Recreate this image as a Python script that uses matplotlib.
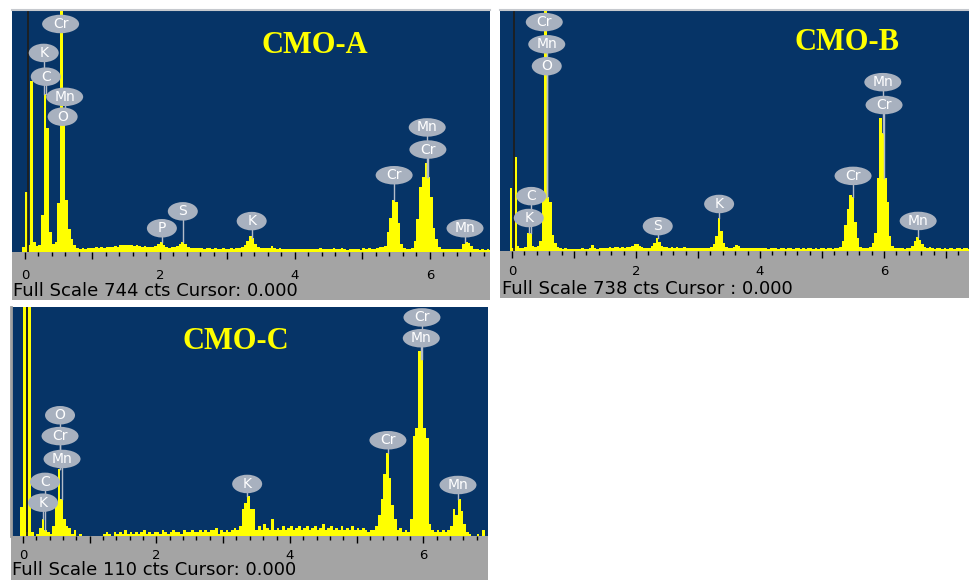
import numpy as np
import matplotlib
matplotlib.use("Agg")
import matplotlib.pyplot as plt
from matplotlib.patches import Rectangle, Ellipse
from matplotlib import transforms
from matplotlib.ticker import MultipleLocator, FuncFormatter

# EDS spectra of the three samples, counts per 0.04 keV channel
# first channel starts at -0.04 keV, rows below are 1 keV each
E0 = -0.04
DE = 0.04

counts_a = [
    15,
    184, 20, 526, 30, 18, 20, 113, 487, 380, 60, 25, 30, 150, 1000, 420, 160, 70, 40, 20, 12, 10, 12, 10, 11, 12,
    12, 14, 12, 15, 13, 14, 16, 15, 17, 16, 20, 22, 21, 22, 20, 18, 20, 17, 16, 18, 15, 16, 14, 18, 25,
    32, 22, 15, 13, 14, 15, 18, 26, 32, 25, 15, 13, 12, 13, 11, 12, 10, 12, 11, 10, 11, 9, 10, 12, 10,
    10, 11, 10, 11, 12, 14, 20, 35, 50, 42, 25, 15, 12, 11, 13, 13, 17, 11, 10, 11, 9, 10, 9, 10, 8,
    9, 8, 10, 9, 8, 9, 10, 8, 9, 12, 8, 9, 8, 10, 12, 9, 8, 11, 8, 7, 9, 8, 8, 10, 7,
    12, 8, 12, 9, 10, 11, 14, 14, 18, 60, 105, 160, 155, 90, 25, 12, 10, 9, 12, 35, 100, 200, 230, 275, 230,
    170, 75, 40, 15, 10, 9, 8, 10, 9, 8, 10, 10, 25, 30, 27, 18, 10, 8, 7, 8, 7, 8, 7,
]

counts_b = [
    193,
    10, 288, 15, 10, 8, 12, 55, 55, 15, 12, 15, 30, 162, 1000, 165, 150, 50, 25, 12, 8, 6, 8, 6, 7, 6,
    6, 7, 6, 8, 6, 7, 9, 18, 8, 7, 9, 8, 10, 9, 12, 10, 12, 11, 10, 12, 10, 11, 12, 15, 20,
    20, 16, 12, 10, 9, 10, 14, 25, 40, 28, 15, 12, 11, 10, 12, 10, 11, 9, 10, 12, 9, 10, 8, 9, 8,
    8, 9, 8, 10, 9, 12, 20, 46, 100, 60, 25, 12, 10, 9, 11, 18, 16, 10, 9, 8, 10, 9, 8, 9, 8,
    8, 10, 8, 7, 9, 8, 10, 7, 8, 9, 7, 8, 9, 7, 8, 10, 7, 8, 7, 9, 8, 7, 8, 7, 8,
    8, 7, 9, 8, 7, 8, 9, 12, 30, 80, 130, 171, 165, 90, 40, 12, 9, 8, 9, 12, 25, 55, 225, 407, 360,
    225, 150, 45, 15, 10, 8, 9, 8, 7, 9, 10, 15, 30, 43, 35, 22, 12, 9, 12, 8, 7, 9, 8, 7, 8,
    7, 8, 9, 7, 10, 8, 7, 9, 8, 7,
]

counts_c = [
    14,
    300, 2, 300, 2, 0, 1, 4, 8, 3, 2, 1, 5, 16, 32, 18, 8, 5, 4, 1, 3, 0, 1, 0, 0, 0,
    0, 0, 0, 0, 0, 1, 2, 1, 0, 2, 1, 2, 1, 3, 1, 2, 1, 2, 1, 2, 3, 1, 2, 1, 2,
    2, 1, 3, 2, 1, 2, 3, 2, 2, 1, 3, 2, 2, 3, 2, 2, 3, 2, 3, 2, 3, 3, 4, 1, 3,
    2, 3, 2, 3, 4, 3, 5, 13, 16, 19, 13, 13, 3, 5, 3, 6, 4, 3, 8, 3, 4, 3, 5, 3, 4,
    5, 3, 4, 5, 3, 4, 5, 3, 4, 5, 3, 4, 6, 3, 4, 5, 3, 4, 3, 5, 3, 4, 3, 5, 3,
    4, 3, 4, 3, 2, 3, 3, 5, 10, 18, 30, 40, 28, 15, 8, 3, 4, 2, 3, 2, 8, 48, 52, 89, 85,
    52, 47, 6, 3, 2, 3, 2, 3, 2, 3, 5, 13, 10, 18, 12, 6, 2, 1, 0, 0, 1, 0, 3, 0, 0,
]

full_scale = [744, 738, 110]
titles = ["CMO-A", "CMO-B", "CMO-C"]
footers = ["Full Scale 744 cts Cursor: 0.000",
           "Full Scale 738 cts Cursor : 0.000",
           "Full Scale 110 cts Cursor: 0.000"]
x_ranges = [(-0.19, 6.89), (-0.194, 7.37), (-0.18, 6.97)]
cursor_kev = [0.044, 0.032, 0.06]

# peak labels: element, energy (keV), height of bubble (cts)
labels_a = ["Cr", "K", "C", "Mn", "O", "P", "S", "K", "Cr", "Mn", "Cr", "Mn"]
label_kev_a = [0.53, 0.28, 0.31, 0.59, 0.56, 2.03, 2.34, 3.36, 5.47, 5.96, 5.97, 6.52]
label_cts_a = [701, 612, 539, 477, 416, 73, 125, 95, 236, 383, 315, 73]

labels_b = ["Cr", "Mn", "O", "C", "K", "S", "K", "Cr", "Mn", "Cr", "Mn"]
label_kev_b = [0.52, 0.56, 0.56, 0.31, 0.27, 2.35, 3.34, 5.50, 5.98, 6.00, 6.55]
label_cts_b = [701, 633, 566, 168, 101, 76, 144, 230, 517, 447, 92]

labels_c = ["Cr", "Mn", "O", "Cr", "Mn", "C", "K", "K", "Cr", "Mn"]
label_kev_c = [5.98, 5.97, 0.555, 0.555, 0.585, 0.33, 0.30, 3.36, 5.47, 6.52]
label_cts_c = [105, 95, 58, 48, 37, 26, 16, 25, 46, 24.5]

W, H = 969, 582
BLUE = "#063467"
YELLOW = "#ffff00"
STRIP = "#a4a4a4"
BUBBLE = "#a8b1bf"

fig = plt.figure(figsize=(W / 100, H / 100), dpi=100)


def px_rect(x0, y0, x1, y1):
    return [x0 / W, 1 - y1 / H, (x1 - x0) / W, (y1 - y0) / H]


# pixel boxes: plot area, grey strip, title pos, footer pos, tick pad
boxes = [(12, 10, 490, 252), (500, 10, 969, 251), (11, 307, 488, 536)]
strips = [(12, 252, 490, 300), (500, 251, 969, 298), (11, 536, 488, 580)]
title_pos = [(315, 53), (847, 50), (236, 349)]
footer_pos = [(13, 291), (502, 289), (12, 570)]
tick_pad = [7, 5, 4.5]

all_counts = [counts_a, counts_b, counts_c]
all_labels = [(labels_a, label_kev_a, label_cts_a),
              (labels_b, label_kev_b, label_cts_b),
              (labels_c, label_kev_c, label_cts_c)]

for i in range(3):
    counts = np.array(all_counts[i], dtype=float)
    edges = E0 + DE * np.arange(len(counts) + 1)

    sx0, sy0, sx1, sy1 = strips[i]
    fig.add_artist(Rectangle((sx0 / W, 1 - sy1 / H), (sx1 - sx0) / W, (sy1 - sy0) / H,
                             transform=fig.transFigure, facecolor=STRIP,
                             edgecolor="none", zorder=-1))

    ax = fig.add_axes(px_rect(*boxes[i]))
    ax.set_facecolor(BLUE)
    ax.stairs(counts, edges, fill=True, color=YELLOW, zorder=2)
    ax.axvline(cursor_kev[i], color="#1e1e1e", lw=1.3, zorder=2.5)

    names, kev, cts = all_labels[i]
    for name, e, c in zip(names, kev, cts):
        k = int((e - E0) / DE)
        top = min(counts[k], full_scale[i])
        if top < c:
            ax.plot([e, e], [top, c], color="#b4bcc8", lw=1, zorder=3)
        trans = fig.dpi_scale_trans + transforms.ScaledTranslation(e, c, ax.transData)
        w = 0.30 if len(name) == 1 else 0.37
        ax.add_patch(Ellipse((0, 0), w, 0.185, transform=trans,
                             facecolor=BUBBLE, edgecolor="none", zorder=4))
        ax.text(e, c, name, color="white", fontsize=10, ha="center",
                va="center", zorder=5)

    ax.set_xlim(*x_ranges[i])
    ax.set_ylim(0, full_scale[i])
    ax.set_yticks([])
    ax.xaxis.set_major_locator(MultipleLocator(1))
    ax.xaxis.set_minor_locator(MultipleLocator(0.2))
    ax.xaxis.set_major_formatter(
        FuncFormatter(lambda v, p: str(int(round(v))) if round(v) % 2 == 0 else ""))
    ax.tick_params(axis="x", which="major", direction="out", length=5, width=1,
                   color="black", labelsize=9.5, pad=tick_pad[i])
    ax.tick_params(axis="x", which="minor", direction="out", length=3, width=1,
                   color="black")
    for side in ["left", "right", "bottom"]:
        ax.spines[side].set_visible(False)
    if i < 2:
        ax.spines["top"].set_color("#c6c9ce")
        ax.spines["top"].set_linewidth(1.5)
    else:
        ax.spines["top"].set_visible(False)
        ax.spines["left"].set_visible(True)
        ax.spines["left"].set_color("#a0a0a0")
        ax.spines["left"].set_linewidth(2)

    tx, ty = title_pos[i]
    fig.text(tx / W, 1 - ty / H, titles[i], color=YELLOW, fontsize=22,
             fontfamily="Liberation Serif", fontweight="bold",
             ha="center", va="baseline")
    fx, fy = footer_pos[i]
    fig.text(fx / W, 1 - fy / H, footers[i], color="black", fontsize=13,
             ha="left", va="center")

fig.savefig("out.png", dpi=100)
